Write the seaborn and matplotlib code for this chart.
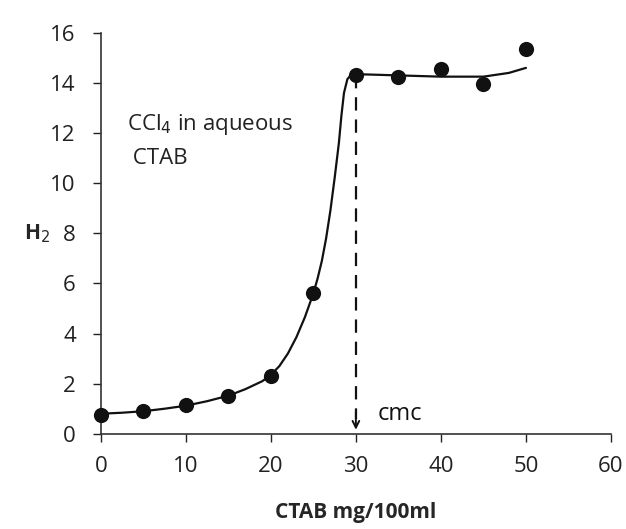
import matplotlib
matplotlib.use("Agg")
import matplotlib.pyplot as plt
import seaborn as sns
import pandas as pd

# --- data ---
ctab = [0, 5, 10, 15, 20, 25, 30, 35, 40, 45, 50]
h2 = [0.75, 0.9, 1.15, 1.5, 2.3, 5.6, 14.3, 14.25, 14.55, 13.95, 15.35]

# hand-drawn smooth curve through the points
curve_x = [0, 2.5, 5, 7.5, 10, 12.5, 15, 17, 19, 20, 21, 22, 23, 24, 25, 25.5, 26, 26.5,
           27, 27.5, 28, 28.3, 28.6, 29, 29.5, 30, 35, 40, 45, 48, 50]
curve_y = [0.8, 0.84, 0.9, 1.0, 1.12, 1.3, 1.52, 1.78, 2.1, 2.35, 2.7, 3.2, 3.85, 4.65, 5.6,
           6.2, 6.9, 7.8, 8.9, 10.2, 11.6, 12.7, 13.6, 14.15, 14.35, 14.35, 14.3, 14.25, 14.25,
           14.4, 14.6]

cmc_x = 30
cmc_y = 14.3

df = pd.DataFrame({"CTAB": ctab, "H2": h2})
df_curve = pd.DataFrame({"CTAB": curve_x, "H2": curve_y})

sns.set_theme(style="ticks")
plt.rcParams['font.family'] = ['Open Sans', 'DejaVu Sans']

fig = plt.figure(figsize=(6.26, 5.29), dpi=100)
ax = fig.add_axes([0.161, 0.18, 0.815, 0.758])

sns.lineplot(data=df_curve, x="CTAB", y="H2", color="#111111", linewidth=1.6, ax=ax, sort=False)
sns.scatterplot(data=df, x="CTAB", y="H2", color="#111111", s=120, edgecolor="#111111",
                linewidth=0, ax=ax, zorder=5, clip_on=False)

# dashed cmc line with arrow
ax.plot([cmc_x, cmc_x], [cmc_y, 0.6], color="#111111", linestyle=(0, (6, 4)), linewidth=1.6)
ax.annotate("", xy=(cmc_x, 0.05), xytext=(cmc_x, 1.0),
            arrowprops=dict(arrowstyle="->", color="#111111", lw=1.4))
ax.text(32.6, 0.8, "cmc", fontsize=17, color="#111111", va="center", ha="left")

ax.text(3.1, 11.7, "CCl$_4$ in aqueous\n CTAB", fontsize=16, color="#222222",
        va="center", ha="left", linespacing=1.7)

ax.set_xlim(0, 60)
ax.set_ylim(0, 16)
ax.set_xticks(range(0, 61, 10))
ax.set_yticks(range(0, 17, 2))
ax.tick_params(labelsize=16, colors="#222222", length=6, width=1.0)
ax.tick_params(axis="y", pad=12)
ax.tick_params(axis="x", pad=10)
sns.despine(ax=ax)
for sp in ["left", "bottom"]:
    ax.spines[sp].set_color("#333333")
    ax.spines[sp].set_linewidth(1.2)

ax.set_xlabel("CTAB mg/100ml", fontsize=15, fontweight="bold", labelpad=18)
ax.set_ylabel("H$_2$", fontsize=15, fontweight="bold", rotation=0, va="center")
ax.yaxis.set_label_coords(-0.125, 0.5)

plt.savefig("out.png", dpi=100)
